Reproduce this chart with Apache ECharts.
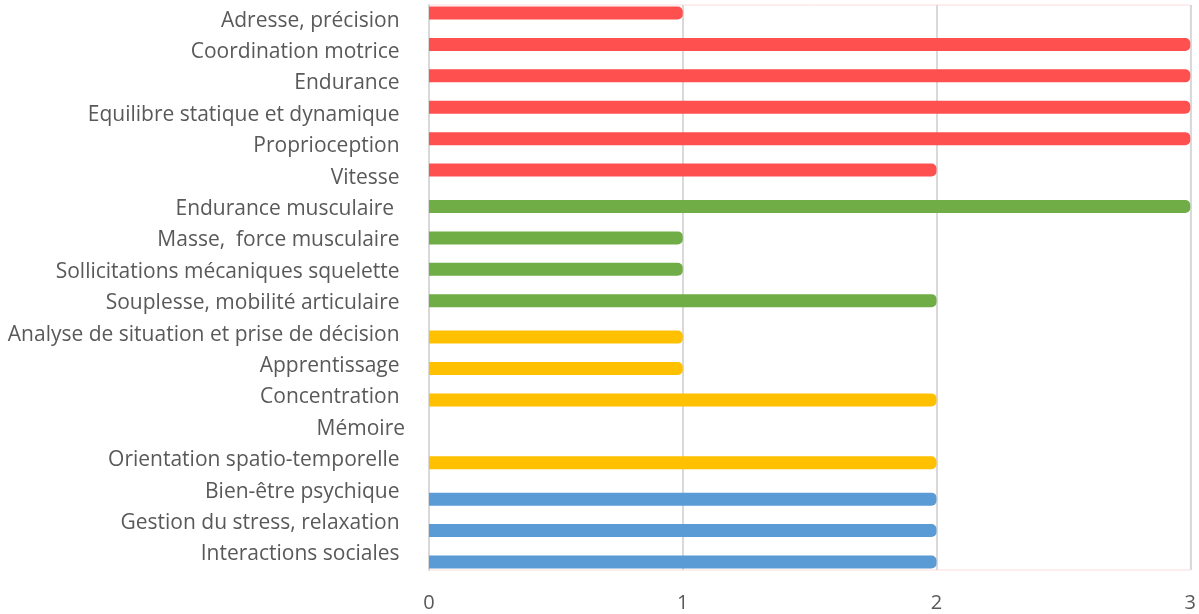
<!DOCTYPE html>
<html><head><meta charset="utf-8">
<script src="https://cdn.jsdelivr.net/npm/echarts@6/dist/echarts.min.js"></script>
<style>html,body{margin:0;padding:0;background:#fff}#c{width:1199px;height:614px}</style>
</head><body><div id="c"></div>
<script>
const categories = [
  'Adresse, précision ', 'Coordination motrice ', 'Endurance ', 'Equilibre statique et dynamique ',
  'Proprioception ', 'Vitesse ', 'Endurance musculaire  ', 'Masse,  force musculaire ',
  'Sollicitations mécaniques squelette ', 'Souplesse, mobilité articulaire ',
  'Analyse de situation et prise de décision ', 'Apprentissage ', 'Concentration ', 'Mémoire',
  'Orientation spatio-temporelle ', 'Bien-être psychique ', 'Gestion du stress, relaxation ', 'Interactions sociales '
];
const physique   = [1, 3, 3, 3, 3, 2, null, null, null, null, null, null, null, null, null, null, null, null];
const musculaire = [null, null, null, null, null, null, 3, 1, 1, 2, null, null, null, null, null, null, null, null];
const cognitif   = [null, null, null, null, null, null, null, null, null, null, 1, 1, 2, null, 2, null, null, null];
const social     = [null, null, null, null, null, null, null, null, null, null, null, null, null, null, null, 2, 2, 2];
const xTicks = [0, 1, 2, 3];

const chart = echarts.init(document.getElementById('c'));
const FONT = '"Open Sans"';
function mk(name, data, color) {
  return { name, type: 'bar', data, barWidth: 13, barGap: '-61%', clip: false,
    itemStyle: { color, borderRadius: [0, 5, 5, 0] } };
}
chart.setOption({
  animation: false,
  grid: { left: 429, right: 6, top: 5, bottom: 44, show: true, borderColor: '#fcdcdc', borderWidth: 1, containLabel: false },
  xAxis: { type: 'value', min: xTicks[0], max: xTicks[xTicks.length-1], interval: 1,
    axisLine: { show: false }, axisTick: { show: false },
    axisLabel: { color: '#595959', fontFamily: FONT, fontSize: 20, margin: 23 },
    splitLine: { lineStyle: { color: '#d9d9d9', width: 2 } } },
  yAxis: { type: 'category', data: categories, inverse: true,
    axisLine: { lineStyle: { color: '#d9d9d9', width: 2 } }, axisTick: { show: false },
    axisLabel: { color: '#595959', fontFamily: FONT, fontSize: 21, margin: 24, interval: 0 } },
  series: [
    mk('Physique', physique, '#FF5050'),
    mk('Musculaire', musculaire, '#70AD47'),
    mk('Cognitif', cognitif, '#FFC000'),
    mk('Social', social, '#5B9BD5')
  ]
});
</script></body></html>
